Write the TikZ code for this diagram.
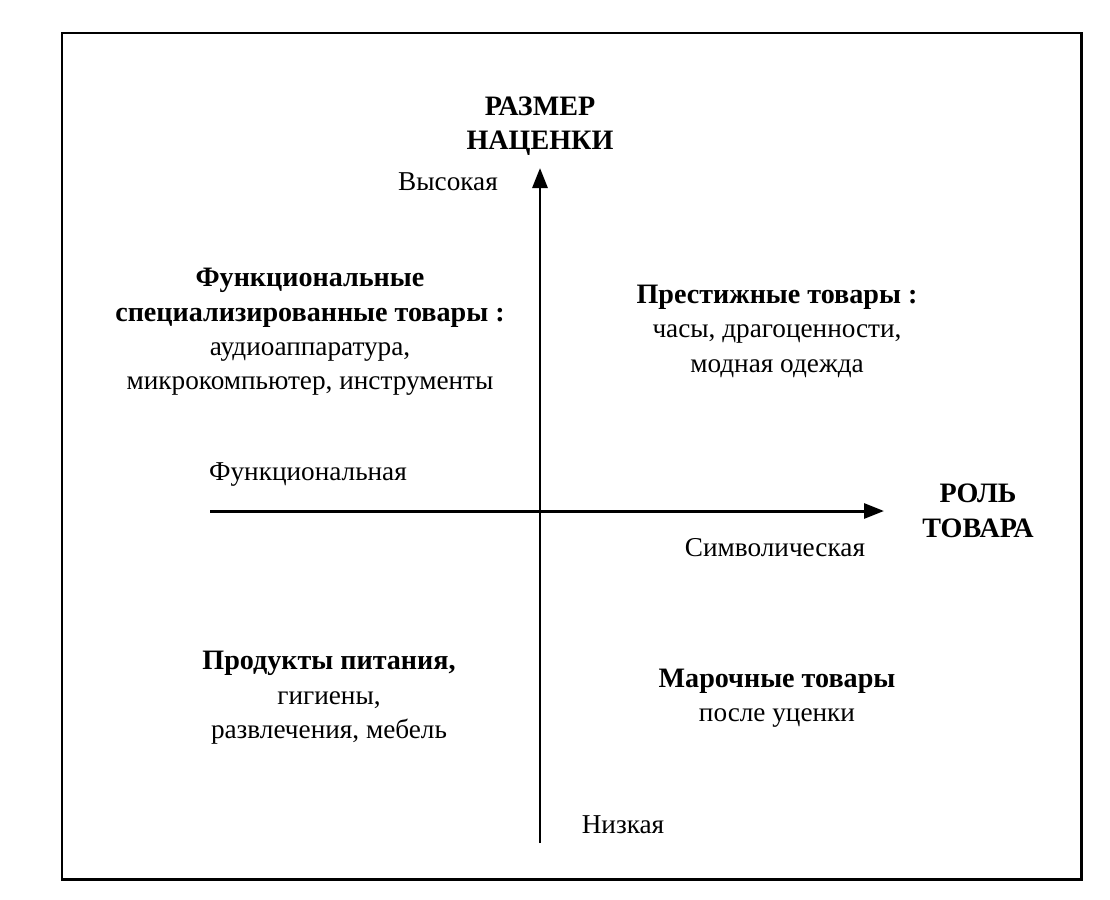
\documentclass[tikz,border=0pt]{standalone}
\usepackage{fontspec}
\setmainfont{Liberation Serif}
\usetikzlibrary{arrows.meta}
\tikzset{
    TX/.style ={align=center, inner sep=0pt, font=\fontsize{15.5}{19.6}\selectfont},
    TB/.style ={TX, font=\bfseries\fontsize{16}{19.6}\selectfont},
    FR/.style ={line width=1.7pt},
    AX/.style ={line width=1.7pt, -{Triangle[length=0.4cm, width=0.3cm]}}}
\begin{document}
\begin{tikzpicture}[x=0.02cm, y=-0.02cm]
        \useasboundingbox (0,0) rectangle (1110,900);
        \draw[FR] (62,33) rectangle (1081,879);
        \coordinate (vlo) at (540,843);
        \coordinate (vhi) at (540,168);
        \coordinate (hlo) at (210,511);
        \coordinate (hhi) at (884,511);
        \draw[AX] (vlo) -- (vhi);
        \draw[AX] (hlo) -- (hhi);
        \node[TB] (yname) at (540,126){РАЗМЕР\\НАЦЕНКИ};
        \node[TB] (xname) at (978,511){РОЛЬ\\ТОВАРА};
        \node[TX] (high) at (448,182){Высокая};
        \node[TX] (low) at (623,825){Низкая};
        \node[TX] (func) at (308,475){Функциональная};
        \node[TX] (symb) at (775,548){Символическая};
        \node[TX] (q1) at (310,332){\textbf{\fontsize{16}{19.6}\selectfont Функциональные}\\\textbf{\fontsize{16}{19.6}\selectfont специализированные товары :}\\аудиоаппаратура,\\микрокомпьютер, инструменты};
        \node[TX] (q2) at (777,331){\textbf{\fontsize{16}{19.6}\selectfont Престижные товары :}\\часы, драгоценности,\\модная одежда};
        \node[TX] (q3) at (329,698){\textbf{\fontsize{16}{19.6}\selectfont Продукты питания,}\\гигиены,\\развлечения, мебель};
        \node[TX] (q4) at (777,698){\textbf{\fontsize{16}{19.6}\selectfont Марочные товары}\\после уценки};
    \end{tikzpicture}
\end{document}
